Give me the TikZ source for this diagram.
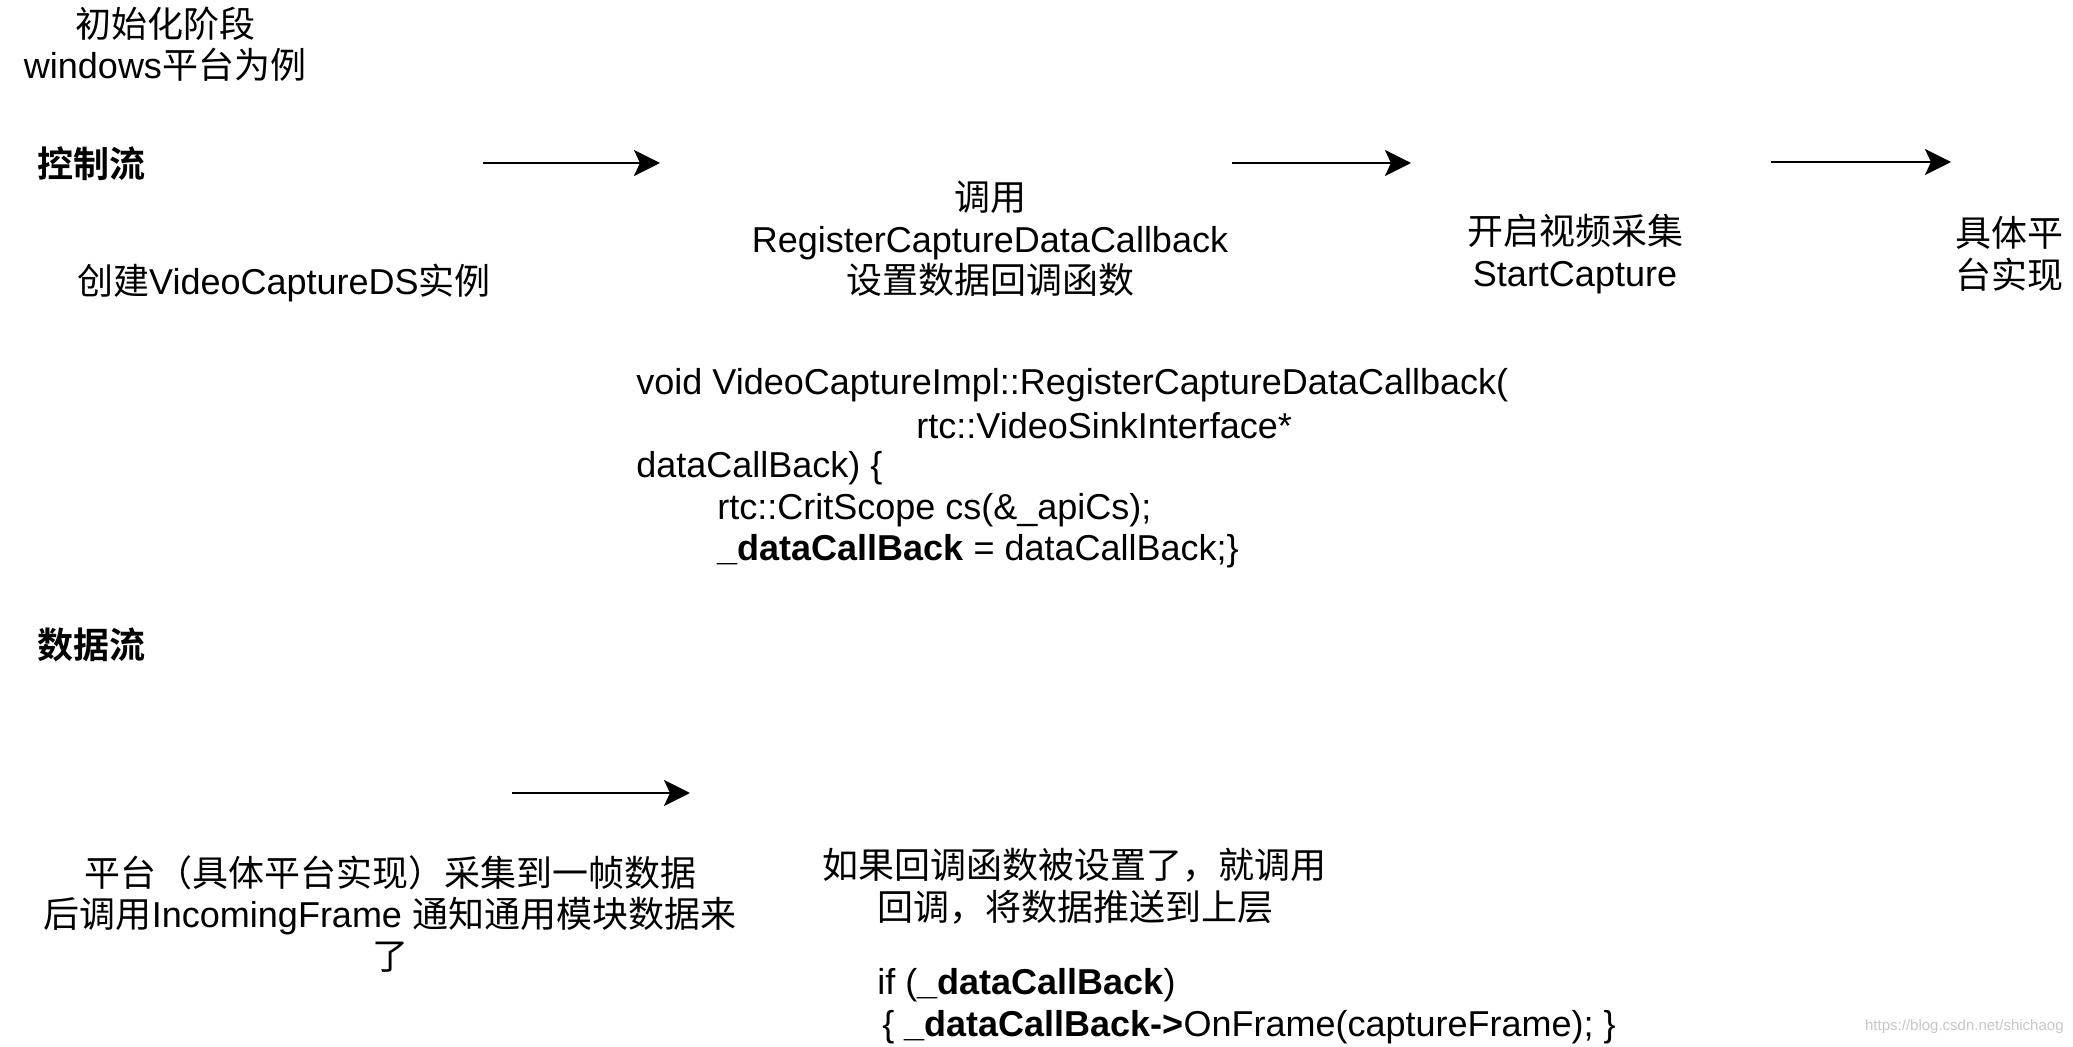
\documentclass[tikz,border=0pt]{standalone}
\usepackage{fontspec}
\setmainfont{Liberation Sans}
\newfontfamily\cjk{Noto Sans CJK SC}[BoldFont={Noto Sans CJK SC Bold}]
\newcommand\zh[1]{{\cjk #1}}
\usetikzlibrary{arrows.meta}
\begin{document}
\begin{tikzpicture}[x=0.5pt,y=-0.5pt,
  txt/.style={inner sep=0pt, font=\fontsize{18}{20.75}\selectfont},
  code/.style={txt, anchor=west},
  flow/.style={-{Stealth[length=13pt,width=13pt,inset=3pt]}, line width=1.4pt}]
\useasboundingbox (0,0) rectangle (2073,1047);

% headers
\node[txt, align=center] (init) at (165,44) {\zh{初始化阶段}\\windows\zh{平台为例}};
\node[txt, anchor=west] (ctrl) at (37,164) {\zh{\bfseries 控制流}};
\node[txt, anchor=west] (data) at (37,645) {\zh{\bfseries 数据流}};

% control flow
\node[txt] (create) at (284,283) {\zh{创建}VideoCaptureDS\zh{实例}};
\node[txt, align=center] (reg) at (990,239) {\zh{调用}\\RegisterCaptureDataCallback\\\zh{设置数据回调函数}};
\node[txt, align=center] (start) at (1575,254) {\zh{开启视频采集}\\StartCapture};
\node[txt, align=center] (plat) at (2009,254) {\zh{具体平}\\\zh{台实现}};

\coordinate (a1s) at (483,163); \coordinate (a1e) at (660,163);
\coordinate (a2s) at (1232,163); \coordinate (a2e) at (1411,163);
\coordinate (a3s) at (1771,162); \coordinate (a3e) at (1951,162);
\draw[flow] (a1s) -- (a1e);
\draw[flow] (a2s) -- (a2e);
\draw[flow] (a3s) -- (a3e);

% code block 1
\node[code] (c1) at (636,385) {void VideoCaptureImpl::RegisterCaptureDataCallback(};
\node[code] (c2) at (916,426) {rtc::VideoSinkInterface*};
\node[code] (c3) at (636,468) {dataCallBack) \{};
\node[code] (c4) at (717,510) {rtc::CritScope cs(\&\_apiCs);};
\node[code] (c5) at (717,551) {\textbf{\_dataCallBack} = dataCallBack;\}};

% data flow
\coordinate (a4s) at (512,793); \coordinate (a4e) at (690,793);
\draw[flow] (a4s) -- (a4e);
\node[txt, align=center] (frame) at (390,914) {\zh{平台（具体平台实现）采集到一帧数据}\\\zh{后调用}IncomingFrame \zh{通知通用模块数据来}\\\zh{了}};

\node[code] (d1) at (822,865) {\zh{如果回调函数被设置了，就调用}};
\node[code] (d2) at (877,907) {\zh{回调，将数据推送到上层}};
\node[code] (d3) at (877,985) {if (\textbf{\_dataCallBack})};
\node[code] (d4) at (882,1027) {\{ \textbf{\_dataCallBack->}OnFrame(captureFrame); \}};

\node[inner sep=0pt, anchor=east, font=\fontsize{7.5}{9}\selectfont, text=black!22] (wm) at (2064,1027) {https://blog.csdn.net/shichaog};
\end{tikzpicture}
\end{document}
